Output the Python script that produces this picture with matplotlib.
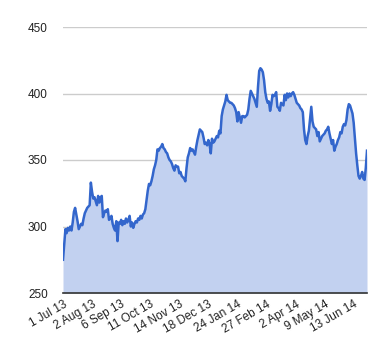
import numpy as np
import matplotlib
matplotlib.use("Agg")
from matplotlib import pyplot as plt

# daily closing values, one per trading day (1 Jul 13 .. end Jun 14)
prices = [
    275, 287, 298, 295, 299, 297, 300, 297, 303, 311, 314, 309,
    304, 298, 300, 302, 301, 306, 310, 312, 314, 315, 316, 333,
    326, 321, 322, 319, 316, 323, 318, 322, 323, 307, 310, 312,
    311, 313, 305, 306, 308, 302, 299, 297, 304, 289, 303, 302,
    305, 301, 304, 302, 306, 303, 305, 308, 300, 303, 299, 302,
    304, 303, 306, 305, 308, 306, 309, 310, 313, 320, 327, 332,
    331, 334, 338, 343, 346, 350, 358, 357, 359, 360, 362, 359,
    358, 356, 355, 352, 350, 349, 347, 344, 342, 346, 345, 345,
    340, 341, 338, 337, 336, 334, 344, 352, 355, 359, 357, 358,
    356, 354, 360, 365, 369, 373, 372, 371, 367, 362, 363, 361,
    365, 362, 355, 366, 363, 364, 366, 368, 367, 372, 370, 383,
    388, 391, 394, 399, 395, 394, 393, 393, 392, 391, 389, 386,
    379, 386, 382, 378, 383, 383, 382, 383, 384, 388, 396, 402,
    400, 398, 396, 393, 390, 405, 417, 419, 418, 416, 410, 401,
    396, 393, 394, 387, 392, 399, 398, 399, 401, 390, 389, 387,
    393, 392, 391, 399, 395, 400, 397, 400, 398, 400, 401, 399,
    396, 393, 392, 391, 389, 388, 386, 373, 365, 362, 368, 372,
    381, 390, 379, 375, 374, 373, 368, 371, 364, 366, 368, 369,
    370, 372, 373, 375, 370, 366, 362, 365, 357, 360, 362, 365,
    367, 371, 370, 375, 377, 376, 380, 388, 392, 391, 388, 385,
    378, 366, 355, 346, 338, 336, 338, 341, 336, 335, 344, 357,
]
tick_labels = ["1 Jul 13", "2 Aug 13", "6 Sep 13", "11 Oct 13", "14 Nov 13",
               "18 Dec 13", "24 Jan 14", "27 Feb 14", "2 Apr 14", "9 May 14",
               "13 Jun 14"]
y_ticks = [250, 300, 350, 400, 450]

plt.rcParams['font.family'] = ['Liberation Sans', 'DejaVu Sans']

fig = plt.figure(figsize=(3.8, 3.6), dpi=100)
ax = fig.add_axes([63 / 380, 1 - 293 / 360, 304 / 380, 266 / 360])

x = np.arange(len(prices))
base = y_ticks[0]
ax.fill_between(x, prices, base, color="#c2d1f0", linewidth=0)
ax.plot(x, prices, color="#3366cc", linewidth=1.8)

ax.set_xlim(0, len(prices) - 1)
ax.set_ylim(y_ticks[0], y_ticks[-1])
ax.set_yticks(y_ticks)
ax.set_yticklabels([str(v) for v in y_ticks])
ax.set_xticks(np.arange(len(tick_labels)) * 24)
ax.set_xticklabels(tick_labels, rotation=30, ha="right", rotation_mode="anchor")

ax.grid(axis="y", color="#cccccc", linewidth=1)
ax.set_axisbelow(True)
for side in ["top", "right", "left"]:
    ax.spines[side].set_visible(False)
ax.spines["bottom"].set_color("#333333")
ax.spines["bottom"].set_linewidth(1.2)
ax.tick_params(axis="both", length=0, labelsize=8.5, colors="#222222")
ax.tick_params(axis="y", pad=11)
ax.tick_params(axis="x", pad=4)

plt.savefig("out.png", dpi=100)
plt.close()
